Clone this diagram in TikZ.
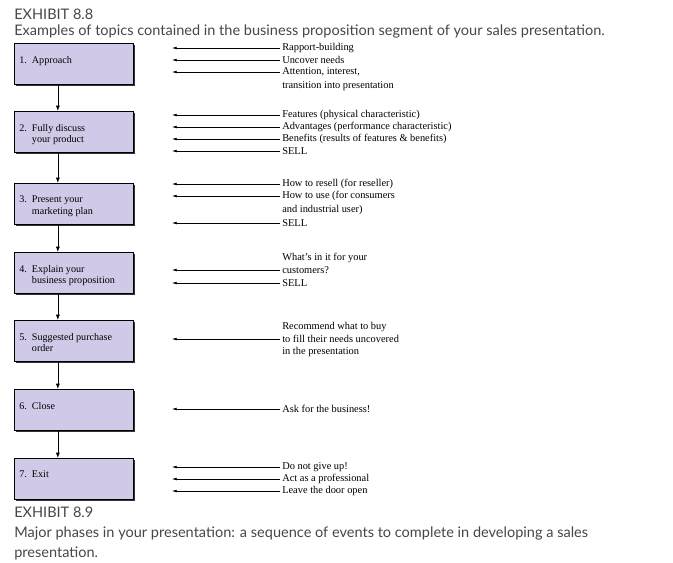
\documentclass[tikz,border=0pt]{standalone}
\usepackage{fontspec}
\setmainfont{Liberation Serif}
\newfontfamily\capfont{Lato}
\usetikzlibrary{arrows.meta}
\definecolor{boxfill}{RGB}{208,202,232}
\definecolor{captext}{RGB}{70,70,70}
\begin{document}
\begin{tikzpicture}[x=0.75pt,y=-0.75pt,
  stagebox/.style={draw=black,line width=0.5pt,fill=boxfill,minimum width=89.25pt,minimum height=30.75pt,anchor=north west,inner sep=0pt},
  stagetxt/.style={font=\fontsize{7.6}{8.6}\selectfont,align=left,anchor=north west,inner sep=0pt},
  topic/.style={font=\fontsize{7.8}{7.8}\selectfont,align=left,anchor=west,inner sep=0pt},
  feed/.style={-{Latex[length=3.5pt,width=2.2pt]},line width=0.5pt},
  flow/.style={-{Latex[length=4pt,width=3pt]},line width=0.5pt},
  captiontxt/.style={font=\capfont\fontsize{10.9}{14}\selectfont,text=captext,anchor=west,inner sep=0pt}]
\useasboundingbox (0,0) rectangle (673,562);
\node[captiontxt] (t1) at (14,14) {EXHIBIT 8.8};
\node[captiontxt] (t2) at (14,31) {Examples of topics contained in the business proposition segment of your sales presentation.};
\node[captiontxt] (t3) at (14,512) {EXHIBIT 8.9};
\node[captiontxt] (t4) at (14,533) {Major phases in your presentation: a sequence of events to complete in developing a sales};
\node[captiontxt] (t5) at (14,553) {presentation.};
% boxes
\foreach \n/\y/\t in {1/43/{1.\ \ Approach},2/111/{2.\ \ Fully discuss\\\ \ \ \ \ your product},3/183/{3.\ \ Present your\\\ \ \ \ \ marketing plan},4/252/{4.\ \ Explain your\\\ \ \ \ \ business proposition},5/320/{5.\ \ Suggested purchase\\\ \ \ \ \ order},6/389/{6.\ \ Close},7/458/{7.\ \ Exit}}{
  \fill[black!80] (16,\y+2) rectangle (135,\y+43);
  \node[stagebox] (b\n) at (14,\y) {};
  \node[stagetxt] (l\n) at (19,\y+13) {\t};
}
\foreach \a/\b in {1/2,2/3,3/4,4/5,5/6,6/7}{
  \draw[flow] ([xshift=-12pt]b\a.south) -- ([xshift=-12pt]b\b.north);
}
% topics
\newcommand\topicrow[3]{\node[topic] (#1) at (282,#2) {#3}; \draw[feed] (#1.west) ++(-2,0) coordinate (#1e) -- ++(-108,0);}
\topicrow{a1}{48}{Rapport-building}
\topicrow{a2}{60}{Uncover needs}
\topicrow{a3}{72}{Attention, interest,}
\node[topic] (a4) at (282,86) {transition into presentation};
\topicrow{b1}{115}{Features (physical characteristic)}
\topicrow{b2}{127}{Advantages (performance characteristic)}
\topicrow{b3}{139}{Benefits (results of features \& benefits)}
\topicrow{b4}{151}{SELL}
\topicrow{c1}{184}{How to resell (for reseller)}
\topicrow{c2}{196}{How to use (for consumers}
\node[topic] (c3) at (282,210) {and industrial user)};
\topicrow{c4}{223}{SELL}
\node[topic] (d1) at (282,258) {What's in it for your};
\topicrow{d2}{270}{customers?}
\topicrow{d3}{283}{SELL}
\node[topic] (e1) at (282,327) {Recommend what to buy};
\topicrow{e2}{339}{to fill their needs uncovered}
\node[topic] (e3) at (282,352) {in the presentation};
\topicrow{f1}{409}{Ask for the business!}
\topicrow{g1}{467}{Do not give up!}
\topicrow{g2}{479}{Act as a professional}
\topicrow{g3}{491}{Leave the door open}
\end{tikzpicture}
\end{document}
